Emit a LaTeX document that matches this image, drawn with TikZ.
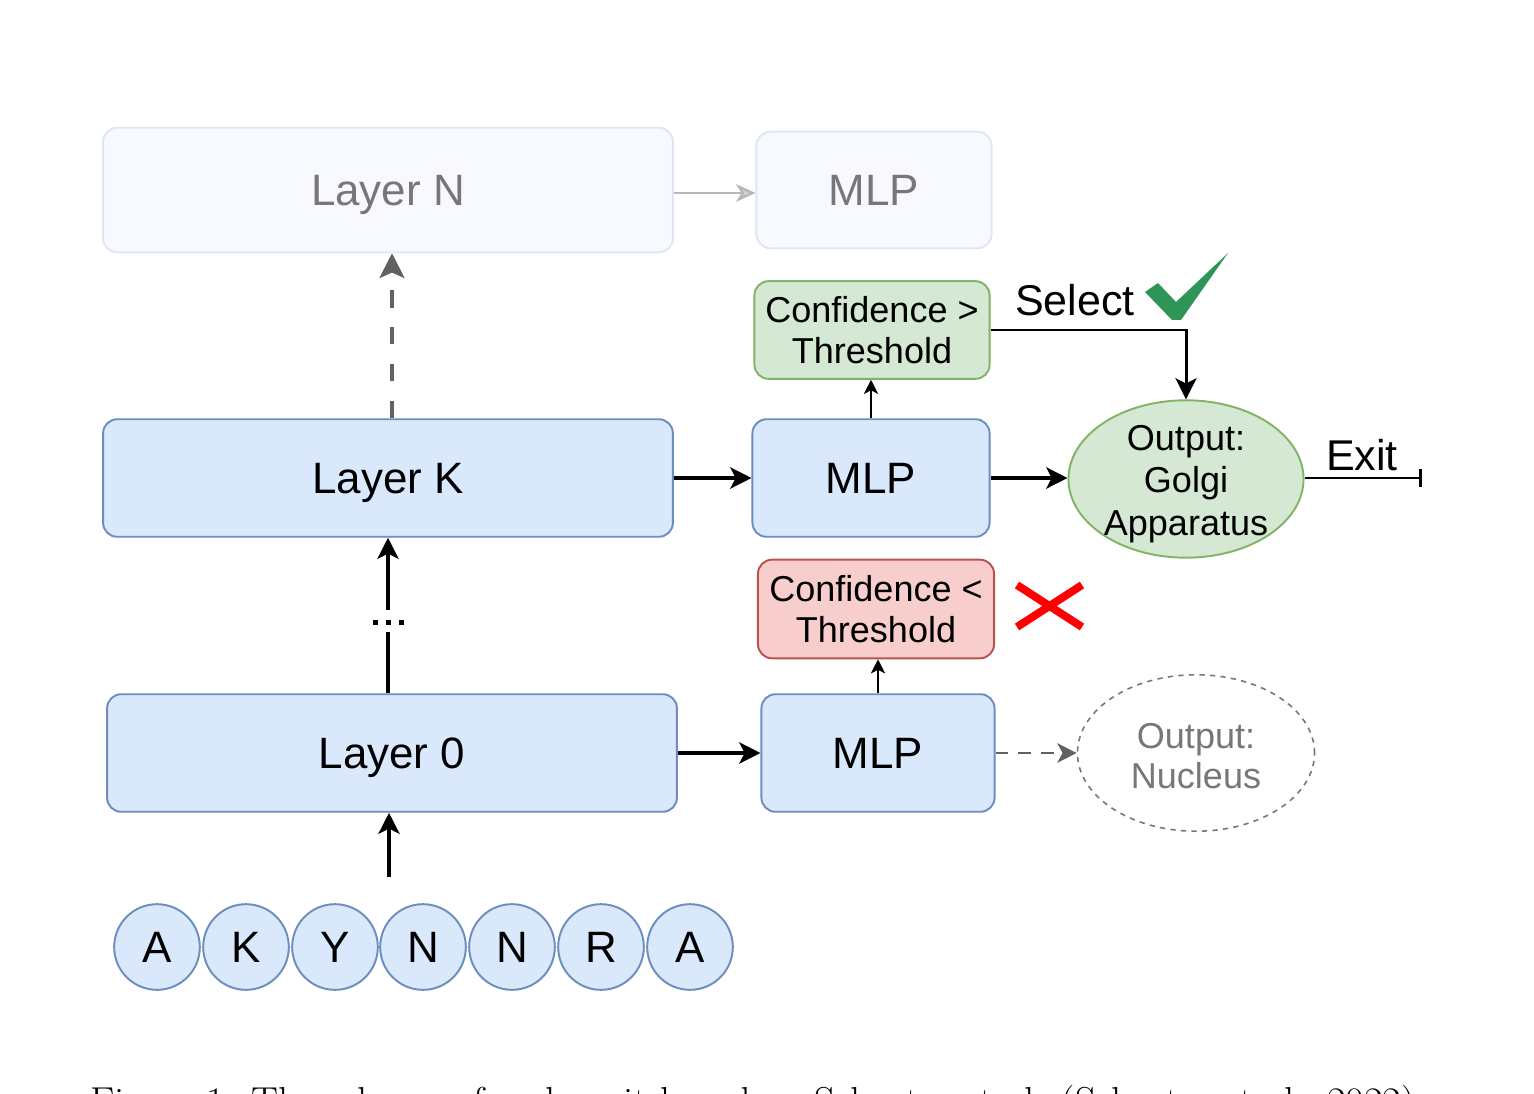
\documentclass[tikz,border=0pt]{standalone}
\usepackage{fontspec}
\newfontfamily\hv{Liberation Sans}
\usetikzlibrary{arrows.meta,shapes.geometric}
\definecolor{bluefill}{HTML}{DAE8FC}
\definecolor{blueline}{HTML}{6C8EBF}
\definecolor{greenfill}{HTML}{D5E8D4}
\definecolor{greenline}{HTML}{82B366}
\definecolor{redfill}{HTML}{F8CECC}
\definecolor{redline}{HTML}{B85450}
\definecolor{palefill}{HTML}{F7F9FE}
\definecolor{paleline}{HTML}{DFE6F3}
\definecolor{palegrey}{HTML}{777777}
\definecolor{checkgreen}{HTML}{2E9556}
\tikzset{
  bluebox/.style={draw=blueline,fill=bluefill,line width=1.1pt,rounded corners=8pt,inner sep=0pt},
  palebox/.style={draw=paleline,fill=palefill,line width=1.1pt,rounded corners=8pt,inner sep=0pt,text=palegrey},
  greenbox/.style={draw=greenline,fill=greenfill,line width=1.1pt,rounded corners=8pt,inner sep=0pt,align=center},
  redbox/.style={draw=redline,fill=redfill,line width=1.1pt,rounded corners=8pt,inner sep=0pt,align=center},
  bigtxt/.style={font=\hv\fontsize{25}{29}\selectfont,text depth=0pt},
  midtxt/.style={font=\hv\fontsize{20.5}{23}\selectfont},
  mainarrow/.style={line width=2.2pt,-{Stealth[length=12pt,width=12pt,inset=3pt]}},
  thinarrow/.style={line width=1.2pt,-{Stealth[length=8pt,width=8pt,inset=2pt]}},
}
\begin{document}
\begin{tikzpicture}[x=0.02cm,y=-0.02cm]
\useasboundingbox[fill=white] (0,0) rectangle (1534,1094);
% top row
\node[palebox,bigtxt,minimum width=572*0.567pt,minimum height=125*0.567pt] (layerN) at (388,190) {Layer N};
\node[palebox,bigtxt,minimum width=236*0.567pt,minimum height=117*0.567pt] (mlpN) at (874,190) {MLP};
\draw[draw=black!28,line width=1.4pt,-{Stealth[length=11pt,width=10pt,inset=3pt,fill=black!18]}] (layerN.east |- 0,193) -- (mlpN.west |- 0,193);
% confidence >
\node[greenbox,midtxt,minimum width=236*0.567pt,minimum height=98*0.567pt] (confhi) at (872,330) {Confidence >\\Threshold};
% layer K row
\node[bluebox,bigtxt,minimum width=572*0.567pt,minimum height=118*0.567pt] (layerK) at (388,478) {Layer K};
\node[bluebox,bigtxt,minimum width=238*0.567pt,minimum height=118*0.567pt] (mlpK) at (871,478) {MLP};
\node[ellipse,draw=greenline,fill=greenfill,line width=1.1pt,minimum width=236*0.567pt,minimum height=158*0.567pt,inner sep=0pt] (golgi) at (1186,479) {};
\node[align=center,font=\hv\fontsize{20.5}{24.3}\selectfont,inner sep=0pt] (golgitxt) at (1186,484) {Output:\\Golgi\\Apparatus};
% confidence <
\node[redbox,midtxt,minimum width=237*0.567pt,minimum height=99*0.567pt] (conflo) at (876,609) {Confidence <\\Threshold};
% layer 0 row
\node[bluebox,bigtxt,minimum width=572*0.567pt,minimum height=118*0.567pt] (layer0) at (392,753) {Layer 0};
\node[bluebox,bigtxt,minimum width=234*0.567pt,minimum height=118*0.567pt] (mlp0) at (878,753) {MLP};
\node[ellipse,draw=palegrey,dashed,line width=0.9pt,minimum width=238*0.567pt,minimum height=157*0.567pt,inner sep=0pt] (nucleus) at (1196,753) {};
\node[align=center,midtxt,text=palegrey,inner sep=0pt] (nucleustxt) at (1196,756) {Output:\\Nucleus};
% tokens
\foreach \n/\l/\x in {t1/A/157,t2/K/246,t3/Y/335,t4/N/423,t5/N/512,t6/R/601,t7/A/690}{
  \node[circle,draw=blueline,fill=bluefill,line width=1.1pt,minimum size=86*0.567pt,inner sep=0pt,font=\hv\fontsize{25}{28}\selectfont] (\n) at (\x,947) {\l};
}
\coordinate (tokin) at (389,877);
% connectors
\draw[mainarrow] (tokin) -- (layer0.south -| tokin);
\coordinate (gapA) at (388,632);
\coordinate (gapB) at (388,610);
\draw[line width=2.2pt] (layer0.north -| gapA) -- (gapA);
\draw[mainarrow] (gapB) -- (layerK.south -| gapB);
\foreach \dx in {-13,0,13}{\fill (388+\dx-2.5,619.5) rectangle (388+\dx+2.5,624.5);}
\draw[draw=black!62,line width=2.8pt,dash pattern=on 10pt off 11pt,-{Stealth[length=14pt,width=14pt,inset=3pt]}] (layerK.north -| 392,0) -- (layerN.south -| 392,0);
\draw[mainarrow] (layerK.east) -- (mlpK.west);
\draw[mainarrow] (mlpK.east) -- (golgi.west |- mlpK.east);
\draw[mainarrow] (layer0.east) -- (mlp0.west);
\draw[thinarrow] (mlpK.north) -- (confhi.south -| mlpK.north);
\draw[thinarrow] (mlp0.north) -- (conflo.south -| mlp0.north);
\draw[line width=1.7pt,-{Stealth[length=12pt,width=12pt,inset=3pt]}] (confhi.east) -- (golgi.north |- confhi.east) -- (golgi.north);
\coordinate (exitend) at (1422,478);
\draw[line width=1.7pt,-{Bar[width=10pt]}] (golgi.east |- exitend) -- (exitend);
\draw[draw=black!62,line width=1.6pt,dash pattern=on 7pt off 6pt,-{Stealth[length=11pt,width=11pt,inset=3pt]}] (mlp0.east) -- (nucleus.west);
% labels
\node[font=\hv\fontsize{24.5}{28}\selectfont,anchor=base] (selectlbl) at (1075,316) {Select};
\node[font=\hv\fontsize{24.5}{28}\selectfont,anchor=base] (exitlbl) at (1362,470) {Exit};
% check mark
\fill[checkgreen] (1145,292) -- (1158,283) -- (1176,302) -- (1228,253) -- (1181,320) -- (1172,320) -- cycle;
% red cross
\draw[red,line width=4.5pt] (1017,585) -- (1082,627) (1017,627) -- (1082,585);
% caption (cut off at the bottom edge, as in the reference)
\begin{scope}
\clip (0,0) rectangle (1534,1094);
\node[anchor=base west,inner sep=0pt,font=\fontsize{23}{26}\selectfont] (caption) at (90,1115) {Figure 1: The scheme of early exit based on Schuster et al. (Schuster et al., 2022)};
\end{scope}
\end{tikzpicture}
\end{document}
